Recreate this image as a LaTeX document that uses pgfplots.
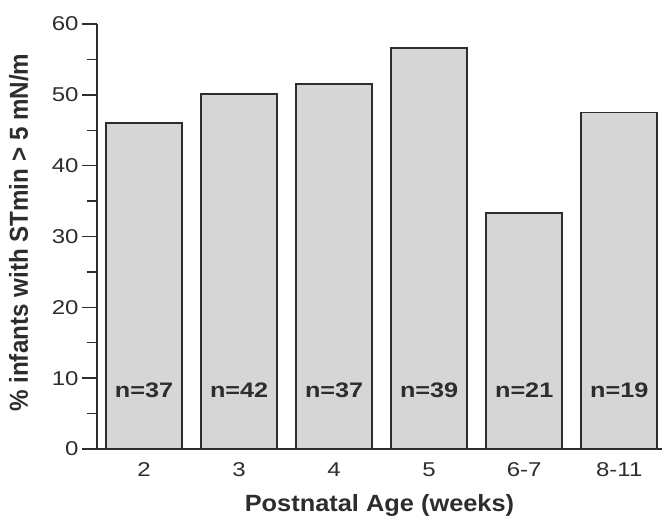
\documentclass[border=0pt]{standalone}
\usepackage{pgfplots}
\pgfplotsset{compat=1.18}
\usepackage{fontspec}
\setmainfont{Liberation Sans}
\newfontfamily\tickfont{Liberation Sans}[FakeStretch=1.2]
\newfontfamily\xlabfont{Liberation Sans}[FakeStretch=1.08]
\newfontfamily\ylabfont{Liberation Sans}[FakeStretch=0.93]
\definecolor{barfill}{RGB}{214,214,214}
\definecolor{ink}{RGB}{45,45,45}
\begin{document}
\begin{tikzpicture}
\useasboundingbox (-97pt,-74pt) rectangle (569pt,449pt);
\begin{axis}[
  scale only axis, width=565pt, height=425pt,
  xmin=-0.495, xmax=5.45, ymin=0, ymax=60,
  axis x line*=bottom, axis y line*=left,
  axis line style={draw=ink, line width=1.4pt},
  ytick={0,10,...,60}, minor ytick={5,15,...,55},
  tick align=outside, major tick length=15pt, minor tick length=10pt,
  every tick/.style={draw=ink, line width=1.4pt},
  xtick={0,...,5}, xticklabels={2,3,4,5,6-7,8-11},
  x tick style={draw=none},
  ticklabel style={font=\tickfont\fontsize{20}{24}\selectfont, text=ink},
  /pgf/number format/assume math mode=true,
  xticklabel style={yshift=5pt},
  ylabel={\bfseries\% infants with STmin > 5 mN/m},
  ylabel style={at={([xshift=-69pt]axis description cs:0,0.509)}, anchor=base, font=\ylabfont\fontsize{26}{31}\selectfont, text=ink},
  xlabel={\bfseries Postnatal Age (weeks)},
  xlabel style={at={(axis description cs:0.5,0)}, anchor=center, yshift=-56pt, font=\xlabfont\fontsize{23.5}{28}\selectfont, text=ink},
]
\addplot[ybar, bar width=0.8, fill=barfill, draw=ink, line width=1.6pt]
  coordinates {(0,46.0) (1,50.1) (2,51.5) (3,56.6) (4,33.3) (5,47.5)};
\foreach \i/\n in {0/37,1/42,2/37,3/39,4/21,5/19}{
  \edef\temp{\noexpand\node[anchor=base, font=\noexpand\tickfont\noexpand\fontsize{21}{25}\noexpand\selectfont\noexpand\bfseries, text=ink] at (axis cs:\i,7.3) {n=\n};}
  \temp
}
\end{axis}
\end{tikzpicture}
\end{document}
